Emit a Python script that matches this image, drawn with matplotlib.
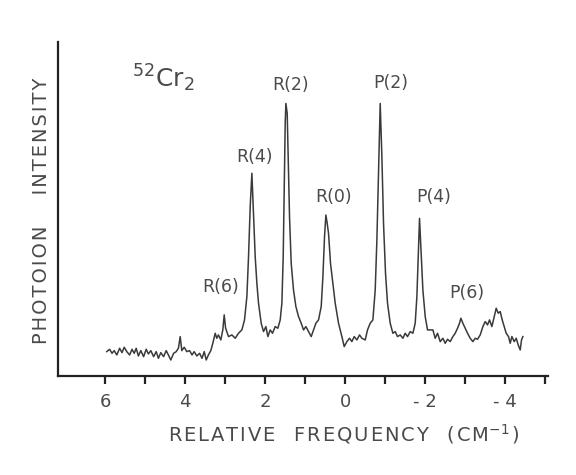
import matplotlib
matplotlib.use("Agg")
import matplotlib.pyplot as plt

# Relative frequency (cm^-1) and photoion intensity (arb. units)
freq = [5.96, 5.89, 5.83, 5.775, 5.71, 5.64, 5.58, 5.525, 5.46, 5.39, 5.33, 5.275, 5.225,
        5.17, 5.11, 5.04, 4.975, 4.92, 4.86, 4.79, 4.725, 4.67, 4.61, 4.54, 4.475, 4.42,
        4.36, 4.29, 4.225, 4.17, 4.125, 4.085, 4.025, 3.96, 3.89, 3.83, 3.775, 3.71, 3.64,
        3.58, 3.525, 3.475, 3.42, 3.36, 3.31, 3.25, 3.21, 3.17, 3.11, 3.06, 3.025, 2.99,
        2.917, 2.833, 2.75, 2.667, 2.583, 2.517, 2.458, 2.417, 2.375, 2.333, 2.292, 2.25,
        2.208, 2.167, 2.1, 2.042, 1.983, 1.933, 1.875, 1.817, 1.75, 1.683, 1.625, 1.583,
        1.55, 1.525, 1.5, 1.483, 1.45, 1.425, 1.392, 1.35, 1.292, 1.233, 1.167, 1.1, 1.042,
        0.983, 0.917, 0.85, 0.792, 0.733, 0.667, 0.6, 0.558, 0.517, 0.483, 0.45, 0.417,
        0.367, 0.25, 0.167, 0.083, 0.025, -0.042, -0.108, -0.167, -0.225, -0.292, -0.358,
        -0.417, -0.5, -0.558, -0.625, -0.692, -0.75, -0.792, -0.833, -0.875, -0.917, -0.958,
        -1.008, -1.058, -1.125, -1.192, -1.25, -1.308, -1.375, -1.442, -1.5, -1.558, -1.625,
        -1.692, -1.75, -1.792, -1.825, -1.858, -1.892, -1.942, -2.0, -2.058,
        -2.192, -2.25, -2.308, -2.375, -2.442, -2.5, -2.558, -2.625, -2.692, -2.75, -2.808,
        -2.858, -2.892, -2.942, -3.0, -3.058, -3.125, -3.192, -3.25, -3.308, -3.375, -3.442,
        -3.5, -3.558, -3.608, -3.667, -3.725, -3.775, -3.825, -3.875, -3.925, -3.975, -4.025,
        -4.083, -4.125, -4.167, -4.225, -4.275, -4.325, -4.375, -4.408, -4.442]
intensity = [7.3, 8.0, 6.8, 7.6, 6.3, 8.3, 7.0, 8.6, 7.3, 6.3, 8.0, 6.8, 8.3,
             6.0, 7.6, 5.8, 8.0, 6.6, 7.6, 5.8, 7.3, 5.3, 7.0, 5.8, 7.6, 6.3,
             4.8, 6.8, 7.3, 8.3, 11.8, 7.6, 8.6, 7.3, 7.6, 6.3, 7.3, 6.0, 6.8,
             5.3, 7.3, 4.8, 6.3, 7.6, 9.8, 12.8, 11.3, 12.3, 10.8, 13.8, 18.3, 14.3,
             11.8, 12.3, 11.3, 12.8, 13.8, 16.8, 23.8, 35.7, 50.7, 60.7, 48.7, 35.7,
             27.7, 21.8, 15.8, 13.3, 14.8, 11.8, 13.8, 12.8, 14.8, 14.3, 16.8, 21.8,
             35.7, 55.7, 75.7, 81.6, 78.6, 65.7, 47.7, 33.7, 25.7, 20.8, 17.8, 15.8, 13.8,
             14.8, 13.3, 11.8, 13.8, 15.8, 16.8, 20.8, 29.7, 41.7, 48.2, 45.7, 42.7,
             33.7, 21.8, 15.8, 11.8, 8.8, 10.3, 11.3, 10.3, 11.8, 10.8, 12.3,
             11.3, 10.8, 13.8, 15.8, 16.8, 25.7, 40.7, 60.7, 81.6, 65.7, 45.7,
             30.7, 21.8, 15.8, 12.8, 13.3, 11.8, 12.3, 11.3, 12.8, 11.8, 13.3,
             12.8, 15.8, 23.8, 35.7, 47.2, 38.7, 25.7, 17.8, 13.8,
             13.8, 11.3, 12.8, 10.3, 11.3, 9.8, 11.0, 10.3, 11.8, 12.8, 14.3,
             15.8, 17.3, 15.8, 14.3, 12.8, 11.3, 10.3, 11.3, 11.0, 12.3, 14.8,
             16.3, 15.3, 16.8, 14.8, 17.8, 20.3, 18.8, 19.3, 16.8, 14.8, 12.8,
             11.8, 9.8, 11.8, 10.3, 11.3, 9.3, 7.8, 10.8, 11.8]

peak_labels = ["R(6)", "R(4)", "R(2)", "R(0)", "P(2)", "P(4)", "P(6)"]
peak_label_x = [3.12, 2.27, 1.37, 0.30, -1.13, -2.20, -3.03]
peak_label_y = [26.6, 65.6, 87.0, 53.6, 87.7, 53.6, 24.8]

major_ticks = [6, 4, 2, 0, -2, -4]
major_tick_labels = ["6", "4", "2", "0", "- 2", "- 4"]
minor_ticks = [5, 3, 1, -1, -3, -5]

ink = "#3a3a3a"
txt = "#4a4a4a"
HAIR = "\u200a"


def spaced(word):
    return HAIR.join(word)


fig = plt.figure(figsize=(5.76, 4.75), dpi=100)
ax = fig.add_axes([0.1007, 0.2084, 0.8507, 0.7032])

ax.plot(freq, intensity, color=ink, lw=1.1)

ax.set_xlim(7.18, -5.07)
ax.set_ylim(0, 100)

for s in ["top", "right"]:
    ax.spines[s].set_visible(False)
for s in ["left", "bottom"]:
    ax.spines[s].set_color("#222222")
    ax.spines[s].set_linewidth(1.6)

ax.set_xticks(major_ticks)
ax.set_xticklabels(major_tick_labels, fontsize=13, color=txt)
ax.set_xticks(minor_ticks, minor=True)
ax.tick_params(axis="x", which="both", direction="out", length=6, width=1.6,
               color="#222222", pad=6)
ax.set_yticks([])

xlab = (spaced("RELATIVE") + "   " + spaced("FREQUENCY") + "   "
        + spaced("(CM") + "$^{-1}$" + HAIR + ")")
ax.set_xlabel(xlab, fontsize=14, color=txt, labelpad=8, x=0.584)
ylab = spaced("PHOTOION") + "     " + spaced("INTENSITY")
ax.set_ylabel(ylab, fontsize=14, color=txt, labelpad=5, y=0.495)

for lab, lx, ly in zip(peak_labels, peak_label_x, peak_label_y):
    ax.text(lx, ly, lab, fontsize=12.5, color=txt, ha="center", va="center")

ax.text(4.55, 89, "$^{52}$Cr$_2$", fontsize=18, color=txt, ha="center", va="center")

fig.savefig("out.png", dpi=100, facecolor="white")
